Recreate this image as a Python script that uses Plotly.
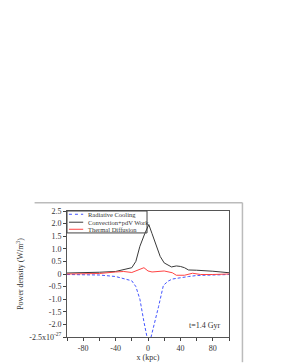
import plotly.graph_objects as go

x_rad = [-100, -80, -60, -40, -30, -20, -15, -10, -5, 0, 3, 8, 13, 19, 25, 30, 40, 50, 60, 80, 100]
y_rad = [-0.02, -0.03, -0.04, -0.1, -0.17, -0.27, -0.5, -1.0, -1.9, -2.7, -2.6, -2.0, -1.3, -0.45, -0.28, -0.2, -0.14, -0.1, -0.06, -0.04, -0.02]

x_conv = [-100, -80, -60, -40, -30, -20, -15, -10, -4, 1, 5, 9, 15, 20, 29, 35, 40, 45, 50, 60, 70, 80, 90, 100]
y_conv = [0.04, 0.05, 0.07, 0.1, 0.18, 0.25, 0.5, 1.1, 1.6, 1.96, 1.6, 1.25, 0.7, 0.44, 0.28, 0.32, 0.3, 0.25, 0.16, 0.15, 0.14, 0.11, 0.08, 0.05]

x_diff = [-100, -80, -60, -40, -30, -20, -5, 0, 5, 20, 30, 35, 45, 55, 65, 80, 100]
y_diff = [0.0, 0.0, 0.02, 0.08, 0.1, 0.06, 0.25, 0.12, 0.08, 0.12, 0.05, -0.05, -0.05, 0.03, -0.02, -0.02, 0.0]

series_names = ["Radiative Cooling", "Convection+pdV Work", "Thermal Diffusion"]
series_colors = ["#4455ff", "#3a3a3a", "#ff4444"]
series_dash = ["3px,2px", "solid", "solid"]

y_tickvals = [2.5, 2.0, 1.5, 1.0, 0.5, 0, -0.5, -1.0, -1.5, -2.0, -2.5]
y_ticktext = ["2.5", "2.0", "1.5", "1.0", "0.5", "0", "-0.5", "-1.0", "-1.5", "-2.0", "-2.5x10<sup>-27</sup>"]
x_tickvals = [-80, -40, 0, 40, 80]
x_ticktext = ["-80", "-40", "0", "40", "80"]

font = dict(family="Liberation Serif", size=8, color="#333")

fig = go.Figure()
for xs, ys, name, col, dsh in zip([x_rad, x_conv, x_diff], [y_rad, y_conv, y_diff],
                                  series_names, series_colors, series_dash):
    fig.add_trace(go.Scatter(x=xs, y=ys, mode="lines", name=name,
                             line=dict(color=col, width=1, dash=dsh)))

# manual compact legend
shapes = [dict(type="rect", xref="paper", yref="paper", x0=0, x1=0.494, y0=0.826, y1=1.0,
               line=dict(color="#444", width=1))]
annotations = []
rows = [0.974, 0.911, 0.855]
for ry, name, col, dsh in zip(rows, series_names, series_colors, series_dash):
    shapes.append(dict(type="line", xref="paper", yref="paper", x0=0.012, x1=0.1, y0=ry, y1=ry,
                       line=dict(color=col, width=1, dash="dot" if dsh != "solid" else "solid")))
    annotations.append(dict(x=0.118, y=ry, xref="paper", yref="paper", text=name, showarrow=False,
                            xanchor="left", yanchor="middle",
                            font=dict(family="Liberation Serif", size=6.5, color="#333")))

annotations.append(dict(x=0.96, y=0.04, xref="paper", yref="paper", text="t=1.4 Gyr",
                        showarrow=False, xanchor="right", yanchor="bottom",
                        font=dict(family="Liberation Serif", size=8, color="#333")))

shapes += [
    dict(type="line", xref="paper", yref="paper", x0=-0.2, x1=1.083, y0=1.066, y1=1.066,
         line=dict(color="#bbbbbb", width=1.5)),
    dict(type="line", xref="paper", yref="paper", x0=1.083, x1=1.083, y0=1.066, y1=-0.2,
         line=dict(color="#bbbbbb", width=1.5)),
]

fig.update_layout(
    width=282, height=364,
    margin=dict(l=51, r=61, t=203, b=25),
    paper_bgcolor="white", plot_bgcolor="white",
    font=font,
    showlegend=False,
    xaxis=dict(range=[-100, 100], tickvals=x_tickvals, ticktext=x_ticktext,
               ticks="outside", ticklen=3, tickcolor="#444", showgrid=False, zeroline=False,
               showline=True, linecolor="#555", linewidth=1, mirror=True,
               minor=dict(tickvals=[-100, -60, -20, 20, 60, 100], ticks="outside", ticklen=3,
                          tickcolor="#444", showgrid=False),
               title=dict(text="x (kpc)", font=dict(size=8), standoff=2),
               tickfont=dict(size=8)),
    yaxis=dict(range=[-2.5, 2.5], tickvals=y_tickvals, ticktext=y_ticktext,
               ticks="outside", ticklen=3, tickcolor="#444", showgrid=False, zeroline=False,
               showline=True, linecolor="#555", linewidth=1, mirror=True,
               title=dict(text="Power density (W/m<sup>3</sup>)", font=dict(size=8), standoff=4),
               tickfont=dict(size=8)),
    annotations=annotations,
    shapes=shapes,
)

fig.write_html("out.html")
